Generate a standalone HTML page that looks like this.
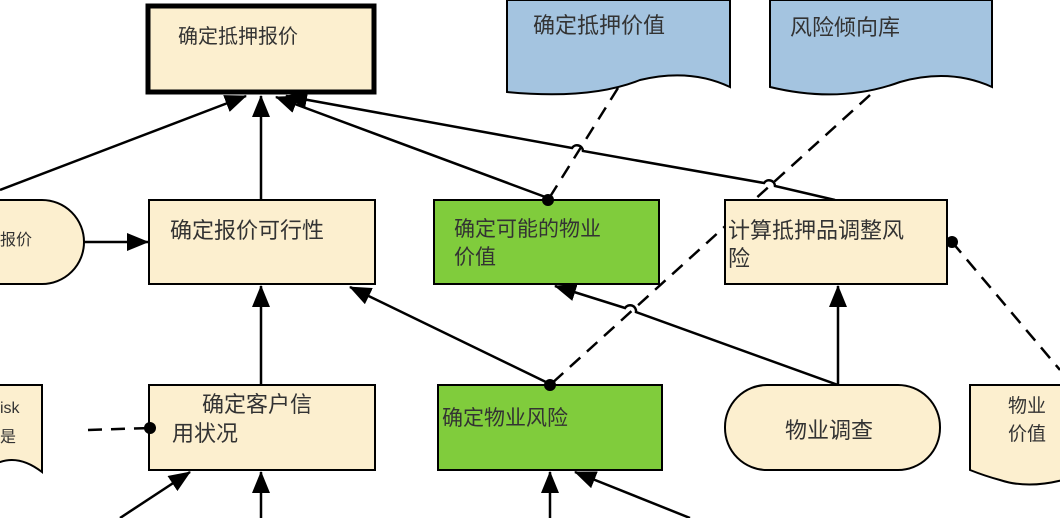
<!DOCTYPE html>
<html><head><meta charset="utf-8"><style>
body{margin:0;background:#fff;width:1060px;height:518px;overflow:hidden}
svg text{font-family:"Liberation Sans","Noto Sans CJK SC",sans-serif;fill:#333}
</style></head><body>
<svg width="1060" height="518" viewBox="0 0 1060 518">
<defs>
<marker id="a" markerWidth="22" markerHeight="18" refX="21" refY="9" orient="auto" markerUnits="userSpaceOnUse" viewBox="0 0 22 18"><path d="M0,0 L22,9 L0,18z" fill="#000"/></marker>
</defs>
<g stroke="#000" stroke-width="2.5" fill="none">
<line x1="0" y1="190" x2="246" y2="96" marker-end="url(#a)"/>
<line x1="261" y1="200" x2="261" y2="96" marker-end="url(#a)"/>
<line x1="548" y1="198" x2="276" y2="97" marker-end="url(#a)"/>
<path d="M835,200 L775,186 A6,6 0 0 0 764,183 L583,151 A6,6 0 0 0 572,148 L286,96" marker-end="url(#a)"/>
<line x1="84" y1="242" x2="148" y2="242" marker-end="url(#a)"/>
<line x1="261" y1="385" x2="261" y2="286" marker-end="url(#a)"/>
<line x1="550" y1="384" x2="350" y2="287" marker-end="url(#a)"/>
<path d="M838,385 L636,312 A6,6 0 0 0 625,308 L555,286" marker-end="url(#a)"/>
<line x1="838" y1="385" x2="838" y2="286" marker-end="url(#a)"/>
<line x1="120" y1="518" x2="190" y2="472" marker-end="url(#a)"/>
<line x1="261" y1="518" x2="261" y2="472" marker-end="url(#a)"/>
<line x1="550" y1="518" x2="550" y2="472" marker-end="url(#a)"/>
<line x1="690" y1="518" x2="575" y2="472" marker-end="url(#a)"/>
</g>
<g stroke="#000" stroke-width="2.5" fill="none" stroke-dasharray="14,9">
<line x1="618" y1="88" x2="548" y2="200"/>
<line x1="870" y1="95" x2="550" y2="385"/>
<line x1="952" y1="242" x2="1060" y2="370"/>
<line x1="88" y1="430" x2="150" y2="428"/>
</g>
<rect x="148" y="6" width="226" height="86" fill="#fcefcf" stroke="#000" stroke-width="5"/>
<text x="178" y="43" font-size="20">确定抵押报价</text>
<path d="M507,0 H730 V87 Q690,68 640,80 Q590,100 507,92 Z" fill="#a4c4e0" stroke="#000" stroke-width="2"/>
<text x="533" y="33" font-size="22">确定抵押价值</text>
<path d="M770,0 H992 V87 Q950,68 900,82 Q840,104 770,87 Z" fill="#a4c4e0" stroke="#000" stroke-width="2"/>
<text x="790" y="35" font-size="22">风险倾向库</text>
<path d="M-20,200 H42 A42,42 0 0 1 42,284 H-20 Z" fill="#fcefcf" stroke="#000" stroke-width="2"/>
<text x="0" y="245" font-size="16">报价</text>
<rect x="149" y="200" width="226" height="84" fill="#fcefcf" stroke="#000" stroke-width="2"/>
<text x="170" y="238" font-size="22">确定报价可行性</text>
<rect x="434" y="200" width="225" height="84" fill="#80cc3c" stroke="#000" stroke-width="2"/>
<text x="454" y="236" font-size="21">确定可能的物业</text>
<text x="454" y="264" font-size="21">价值</text>
<rect x="725" y="200" width="222" height="84" fill="#fcefcf" stroke="#000" stroke-width="2"/>
<text x="728" y="238" font-size="22">计算抵押品调整风</text>
<text x="728" y="266" font-size="22">险</text>
<path d="M-10,385 H42 V472 Q20,455 0,462 L-10,465 Z" fill="#fcefcf" stroke="#000" stroke-width="2"/>
<text x="0" y="413" font-size="16">isk</text>
<text x="0" y="442" font-size="16">是</text>
<rect x="149" y="385" width="226" height="85" fill="#fcefcf" stroke="#000" stroke-width="2"/>
<text x="202" y="412" font-size="22">确定客户信</text>
<text x="172" y="441" font-size="22">用状况</text>
<rect x="438" y="385" width="224" height="85" fill="#80cc3c" stroke="#000" stroke-width="2"/>
<text x="442" y="425" font-size="21">确定物业风险</text>
<rect x="725" y="385" width="215" height="85" rx="42" fill="#fcefcf" stroke="#000" stroke-width="2"/>
<text x="785" y="438" font-size="22">物业调查</text>
<path d="M970,385 H1070 V478 Q1030,490 1000,480 Q985,476 970,470 Z" fill="#fcefcf" stroke="#000" stroke-width="2"/>
<text x="1008" y="412" font-size="19">物业</text>
<text x="1008" y="440" font-size="19">价值</text>
<g fill="#000">
<circle cx="548" cy="200" r="6"/>
<circle cx="550" cy="385" r="6"/>
<circle cx="952" cy="242" r="6"/>
<circle cx="150" cy="428" r="6"/>
</g>
</svg>
</body></html>
